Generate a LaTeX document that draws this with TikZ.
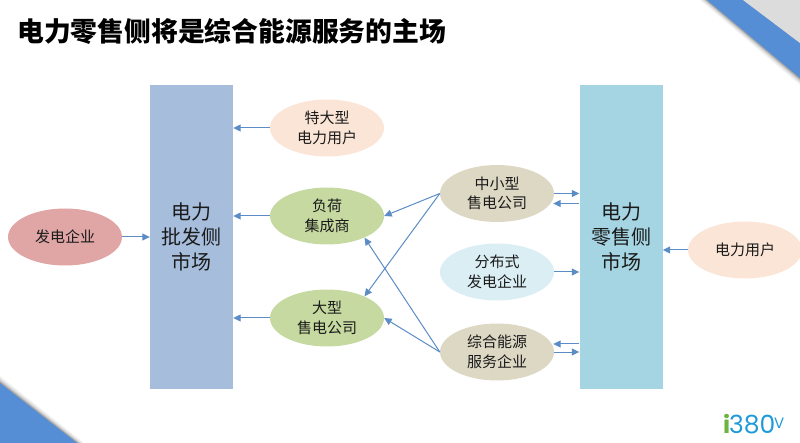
\documentclass[tikz,border=0pt]{standalone}
\usepackage{fontspec}
\setmainfont{Noto Sans CJK SC}
\newfontfamily\logofont{Poppins}
\usetikzlibrary{shapes.geometric,arrows.meta}
\definecolor{bandblue}{HTML}{558ED5}
\definecolor{cornergray}{HTML}{DCDCDC}
\definecolor{linkblue}{HTML}{5B8CC6}
\definecolor{barL}{HTML}{A6BDDC}
\definecolor{barR}{HTML}{A5D5E2}
\definecolor{peach}{HTML}{FBE5D6}
\definecolor{leaf}{HTML}{C5D9A0}
\definecolor{sand}{HTML}{DDD8C4}
\definecolor{ice}{HTML}{DBEEF4}
\definecolor{rose}{HTML}{E0A5A5}
\definecolor{logoblue}{HTML}{1E9BD7}
\definecolor{logogreen}{HTML}{6DB33F}
\definecolor{inktext}{HTML}{1A1A1A}
\tikzset{
  bar/.style={draw=none,minimum width=83pt,minimum height=304pt,inner sep=0pt,align=center,text=inktext,font=\fontsize{20}{25}\selectfont},
  oval/.style={ellipse,draw=none,minimum width=114pt,minimum height=57pt,inner sep=0pt,align=center,text=inktext,font=\fontsize{15}{19.5}\selectfont},
  link/.style={draw=linkblue,line width=1pt,-{Triangle[length=7.5pt,width=7pt]}},
}
\begin{document}
\begin{tikzpicture}[x=1pt,y=-1pt]
\useasboundingbox (0,0) rectangle (800,443);
% corner decorations with soft shadow
\foreach \s/\o in {7/0.05,5/0.08,3/0.12,1.5/0.16}{
  \fill[black,opacity=\o] (707-\s,0) -- (800,{78+\s}) -- (800,0) -- cycle;
  \fill[black,opacity=\o] (0,{383-\s}) -- ({77+\s},443) -- (0,443) -- cycle;
}
\fill[bandblue] (707,0) -- (800,78) -- (800,43) -- (743,0) -- cycle;
\fill[cornergray] (743,0) -- (800,43) -- (800,0) -- cycle;
\fill[bandblue] (0,383) -- (77,443) -- (0,443) -- cycle;
% title
\node[anchor=west,inner sep=0pt,font=\fontsize{26.8}{30}\selectfont\bfseries,text=black] (title) at (17,31) {电力零售侧将是综合能源服务的主场};
% bars
\node[bar,fill=barL] (wholesale) at (191.5,237) {电力\\批发侧\\市场};
\node[bar,fill=barR] (retail) at (621,237) {电力\\零售侧\\市场};
% ovals
\node[oval,fill=rose] (gen) at (65,237) {发电企业};
\node[oval,fill=peach] (large) at (327,128) {特大型\\电力用户};
\node[oval,fill=leaf] (agg) at (327,216) {负荷\\集成商};
\node[oval,fill=leaf] (bigsell) at (327,318) {大型\\售电公司};
\node[oval,fill=sand] (smallsell) at (497,193.5) {中小型\\售电公司};
\node[oval,fill=ice] (dist) at (497,272) {分布式\\发电企业};
\node[oval,fill=sand] (ies) at (497,352) {综合能源\\服务企业};
\node[oval,fill=peach] (user) at (745,250) {电力用户};
% connectors
\draw[link] (gen.east) -- (wholesale.west |- gen.east);
\draw[link] (large.west) -- (wholesale.east |- large.west);
\draw[link] (agg.west) -- (wholesale.east |- agg.west);
\draw[link] (bigsell.west) -- (wholesale.east |- bigsell.west);
\draw[link] (user.west) -- (retail.east |- user.west);
\draw[link] (dist.east) -- (retail.west |- dist.east);
\draw[link] (smallsell.east) -- (retail.west |- smallsell.east);
\draw[link] ([yshift=-10pt]retail.west |- smallsell.east) -- ([yshift=-10pt,xshift=-1pt]smallsell.east);
\draw[link] ([yshift=8pt]retail.west |- ies.east) -- ([yshift=8pt,xshift=-1pt]ies.east);
\draw[link] (ies.east) -- (retail.west |- ies.east);
\draw[link] (smallsell.west) -- (agg.east);
\draw[link] (smallsell.west) -- (bigsell.30);
\draw[link] (ies.west) -- (agg.-30);
\draw[link] (ies.west) -- (bigsell.east);
% logo
\node[anchor=base west,inner sep=0pt,font=\logofont\fontsize{24}{24}\selectfont\bfseries,text=logogreen] (logoi) at (723,433) {i};
\node[anchor=base west,inner sep=0pt,font=\logofont\fontsize{25}{25}\selectfont,text=logoblue] (logonum) at (729,433) {380};
\node[anchor=base west,inner sep=0pt,font=\logofont\fontsize{15}{15}\selectfont,text=logoblue] (logov) at (774,428) {V};
\end{tikzpicture}
\end{document}
